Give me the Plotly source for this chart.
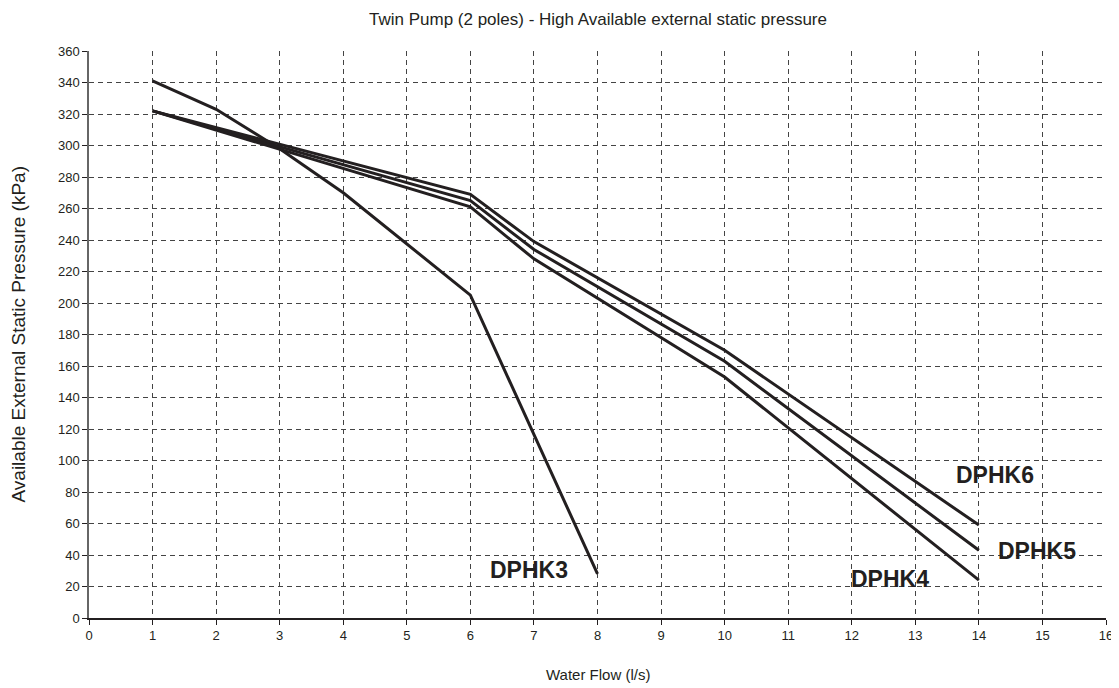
import plotly.graph_objects as go

flow_k3 = [1, 2, 3, 4, 6, 8]
dphk3 = [341, 323, 298, 270, 205, 28]

flow_big = [1, 6, 7, 10, 14]
dphk4 = [322, 261, 228, 153, 24]
dphk5 = [322, 265, 234, 163, 43]
dphk6 = [322, 269, 239, 170, 59]

labels = ["DPHK3", "DPHK4", "DPHK5", "DPHK6"]
label_x = [6.92, 12.6, 14.92, 14.25]
label_y = [30.5, 24.8, 42.5, 90.9]

x_ticks = list(range(0, 17))
y_ticks = list(range(0, 361, 20))

line_color = "#231f20"
font_family = "Liberation Sans, Arial"
fig = go.Figure()
for xs, ys, name in [(flow_k3, dphk3, "DPHK3"), (flow_big, dphk4, "DPHK4"),
                     (flow_big, dphk5, "DPHK5"), (flow_big, dphk6, "DPHK6")]:
    fig.add_trace(go.Scatter(x=xs, y=ys, mode="lines", name=name,
                             line=dict(color=line_color, width=3)))

for t, lx, ly in zip(labels, label_x, label_y):
    fig.add_annotation(x=lx, y=ly, text="<b>" + t + "</b>", showarrow=False,
                       xanchor="center", yanchor="middle",
                       font=dict(family=font_family, size=23, color=line_color))

# titles as annotations
fig.add_annotation(x=0.5, xref="paper", y=1, yref="paper", yshift=32,
                   xanchor="center", yanchor="middle",
                   text="Twin Pump (2 poles) - High Available external static pressure",
                   showarrow=False, font=dict(family=font_family, size=17, color=line_color))
fig.add_annotation(x=0.5, xref="paper", y=0, yref="paper", yshift=-56,
                   xanchor="center", yanchor="middle",
                   text="Water Flow (l/s)",
                   showarrow=False, font=dict(family=font_family, size=15, color=line_color))
fig.add_annotation(x=0, xref="paper", xshift=-71, y=0.5, yref="paper",
                   xanchor="center", yanchor="middle",
                   text="Available External Static Pressure (kPa)", textangle=-90,
                   showarrow=False, font=dict(family=font_family, size=19, color=line_color))

fig.update_layout(
    width=1119, height=688,
    margin=dict(l=81, r=21, t=43, b=78, autoexpand=False),
    plot_bgcolor="white", paper_bgcolor="white",
    showlegend=False,
    font=dict(family=font_family, color=line_color),
)
fig.update_xaxes(range=[0, 16], tickvals=x_ticks, ticktext=[str(v) for v in x_ticks],
                 showgrid=True, gridcolor="#444", griddash="5px,4px", gridwidth=1,
                 showline=True, linecolor=line_color, linewidth=1.5,
                 ticks="outside", ticklen=5, tickcolor=line_color,
                 tickfont=dict(size=13), zeroline=False, automargin=False)
fig.update_yaxes(range=[0, 360], tickvals=y_ticks, ticktext=[str(v) for v in y_ticks],
                 showgrid=True, gridcolor="#444", griddash="5px,4px", gridwidth=1,
                 showline=True, linecolor="#666", linewidth=1.5,
                 ticks="outside", ticklen=5, tickcolor=line_color,
                 tickfont=dict(size=13), zeroline=False, automargin=False)

fig.write_html("out.html")
